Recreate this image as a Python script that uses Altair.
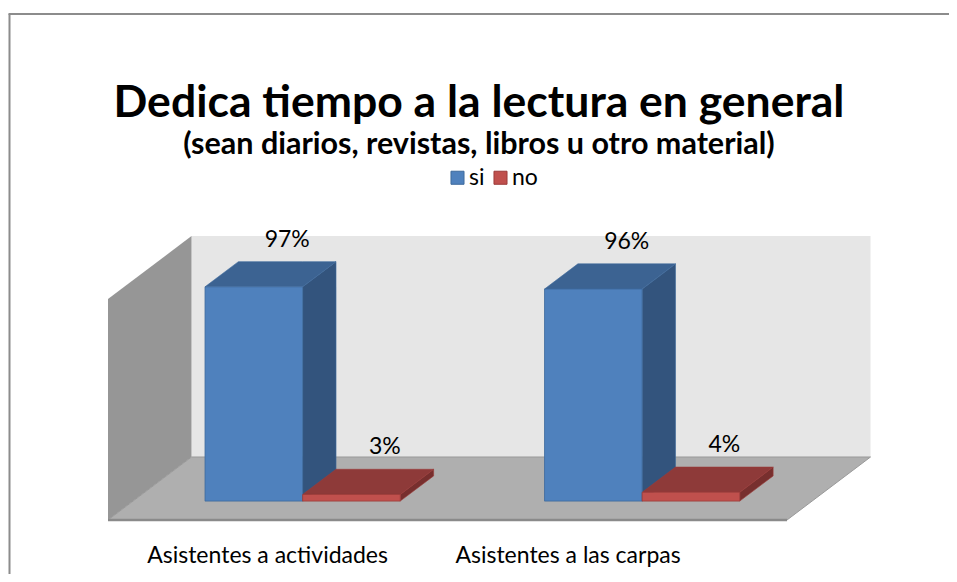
import altair as alt
import pandas as pd

# ---------------- data ----------------
categories = ["Asistentes a actividades", "Asistentes a las carpas"]
series = ["si", "no"]
si_values = [97, 96]
no_values = [3, 4]
title_text = "Dedica tiempo a la lectura en general"
subtitle_text = "(sean diarios, revistas, libros u otro material)"
axis_max = 100

# ---------------- layout / style ----------------
W, H = 941, 566
PX_SLOT = 339.5          # px per category slot
PX_PCT = 2.209           # px per percent
ORIGIN_X = 100           # plot px of X=0 (front floor edge)
ORIGIN_Y = 512           # plot px of Y=0 (front floor edge)
KX = 83.5 / PX_SLOT      # depth shift, x (slot units per depth unit)
KY = 63 / PX_PCT         # depth shift, y (percent units per depth unit)
GAP = 0.212
BAR_W = 0.2875
Z0, Z1 = 0.30, 0.70
LABEL_GAP = 15 / PX_PCT
FONT = "Lato"

BLUE, BLUE_TOP, BLUE_SIDE, BLUE_EDGE = "#4f81bd", "#3c6392", "#33547d", "#3e6a9c"
RED, RED_TOP, RED_SIDE, RED_EDGE = "#c0504d", "#8e3a39", "#772f2e", "#9c3b39"
top_col = {"si": BLUE_TOP, "no": RED_TOP}
side_col = {"si": BLUE_SIDE, "no": RED_SIDE}
edge_col = {"si": BLUE_EDGE, "no": RED_EDGE}

x_scale = alt.Scale(domain=[-ORIGIN_X / PX_SLOT, (W - ORIGIN_X) / PX_SLOT], nice=False, zero=False)
y_scale = alt.Scale(domain=[-(H - ORIGIN_Y) / PX_PCT, ORIGIN_Y / PX_PCT], nice=False, zero=False)

n = len(categories)
values = {"si": si_values, "no": no_values}

# ---------------- geometry derived from values ----------------
front, side, top, labs = [], [], [], []
for ci in range(n):
    for si, s in enumerate(series):
        val = values[s][ci]
        bid = f"{ci}-{s}"
        X0 = ci + GAP + si * BAR_W
        X1 = X0 + BAR_W
        front.append(dict(series=s, bar=bid, u0=X0 + Z0 * KX, u1=X1 + Z0 * KX,
                          v0=Z0 * KY, v1=val + Z0 * KY))
        side += [dict(series=s, bar=bid, u=X1 + Z0 * KX, lo=Z0 * KY, hi=val + Z0 * KY),
                 dict(series=s, bar=bid, u=X1 + Z1 * KX, lo=Z1 * KY, hi=val + Z1 * KY)]
        tl, th = val + Z0 * KY, val + Z1 * KY
        top += [dict(series=s, bar=bid, u=X0 + Z0 * KX, lo=tl, hi=tl),
                dict(series=s, bar=bid, u=X0 + Z1 * KX, lo=tl, hi=th),
                dict(series=s, bar=bid, u=X1 + Z0 * KX, lo=tl, hi=th),
                dict(series=s, bar=bid, u=X1 + Z1 * KX, lo=th, hi=th)]
        labs.append(dict(series=s, u=(X0 + X1) / 2 + Z1 * KX,
                         v=val + Z1 * KY + LABEL_GAP, label=f"{val}%"))

front_df = pd.DataFrame(front)
side_df = pd.DataFrame(side)
top_df = pd.DataFrame(top)
lab_df = pd.DataFrame(labs)

back_wall = pd.DataFrame([dict(u0=KX, u1=n + KX, v0=KY, v1=axis_max + KY)])
left_wall = pd.DataFrame([dict(u=0, lo=0, hi=axis_max), dict(u=KX, lo=KY, hi=axis_max + KY)])
floor = pd.DataFrame([dict(u=0, lo=0, hi=0), dict(u=KX, lo=0, hi=KY),
                      dict(u=n, lo=0, hi=KY), dict(u=n + KX, lo=KY, hi=KY)])
floor_edge = pd.DataFrame([dict(u0=0, u1=n, v=0)])

CAT_SHIFT = [-0.03, -0.145]
cat_df = pd.DataFrame([dict(u=ci + 0.5 + CAT_SHIFT[ci], v=-43 / PX_PCT, label=c)
                       for ci, c in enumerate(categories)])

X = lambda f: alt.X(f, scale=x_scale, axis=None)
Y = lambda f: alt.Y(f, scale=y_scale, axis=None)

layers = []
layers.append(alt.Chart(back_wall).mark_rect(color="#e6e6e6").encode(
    x=X("u0:Q"), x2="u1", y=Y("v0:Q"), y2="v1"))
layers.append(alt.Chart(left_wall).mark_area(color="#969696").encode(
    x=X("u:Q"), y=Y("lo:Q"), y2="hi"))
layers.append(alt.Chart(floor).mark_area(color="#afafaf", stroke="#999999", strokeWidth=1).encode(
    x=X("u:Q"), y=Y("lo:Q"), y2="hi"))
layers.append(alt.Chart(floor_edge).mark_rule(color="#8a8a8a", strokeWidth=2.5).encode(
    x=X("u0:Q"), x2="u1", y=Y("v:Q")))

for s in series:
    layers.append(alt.Chart(side_df[side_df.series == s]).mark_area(
        color=side_col[s], stroke=edge_col[s], strokeWidth=0.6).encode(
        x=X("u:Q"), y=Y("lo:Q"), y2="hi", detail="bar:N"))
for s in series:
    layers.append(alt.Chart(top_df[top_df.series == s]).mark_area(
        color=top_col[s], stroke=edge_col[s], strokeWidth=0.6).encode(
        x=X("u:Q"), y=Y("lo:Q"), y2="hi", detail="bar:N"))

layers.append(alt.Chart(front_df).mark_rect(strokeWidth=0.8).encode(
    x=X("u0:Q"), x2="u1", y=Y("v0:Q"), y2="v1",
    color=alt.Color("series:N", sort=series,
                    scale=alt.Scale(domain=series, range=[BLUE, RED]),
                    legend=alt.Legend(title=None, orient="none", legendX=438, legendY=158,
                                      direction="horizontal", symbolType="square",
                                      symbolSize=170, symbolStrokeWidth=1,
                                      labelFont=FONT, labelFontSize=23, labelColor="#000000",
                                      labelOffset=0, columnPadding=4, padding=0)),
    stroke=alt.Color("series:N", scale=alt.Scale(domain=series, range=[BLUE_EDGE, RED_EDGE]),
                     legend=None)))

layers.append(alt.Chart(lab_df).mark_text(font=FONT, fontSize=23, color="#000000",
                                          baseline="alphabetic").encode(
    x=X("u:Q"), y=Y("v:Q"), text="label:N"))
layers.append(alt.Chart(cat_df).mark_text(font=FONT, fontSize=23, color="#000000",
                                          baseline="alphabetic").encode(
    x=X("u:Q"), y=Y("v:Q"), text="label:N"))

dummy = pd.DataFrame({"a": [0]})
layers.append(alt.Chart(dummy).mark_text(font=FONT, fontSize=44.5, fontWeight="bold",
                                         color="#000000", baseline="alphabetic").encode(
    x=alt.value(W / 2 + 0.5), y=alt.value(109), text=alt.value(title_text)))
layers.append(alt.Chart(dummy).mark_text(font=FONT, fontSize=30.5, fontWeight="bold",
                                         color="#000000", baseline="alphabetic").encode(
    x=alt.value(W / 2 + 0.5), y=alt.value(146), text=alt.value(subtitle_text)))
layers.append(alt.Chart(dummy).mark_rule(color="#8c8c8c", strokeWidth=2).encode(
    x=alt.value(1.5), y=alt.value(6), y2=alt.value(H)))
layers.append(alt.Chart(dummy).mark_rule(color="#8c8c8c", strokeWidth=2).encode(
    x=alt.value(0.5), x2=alt.value(W), y=alt.value(6)))

chart = alt.layer(*layers).properties(
    width=W, height=H, padding=0,
    autosize=alt.AutoSizeParams(type="none"),
).configure_view(stroke=None)

chart.save("out.html", embed_options={"renderer": "svg", "actions": False})
